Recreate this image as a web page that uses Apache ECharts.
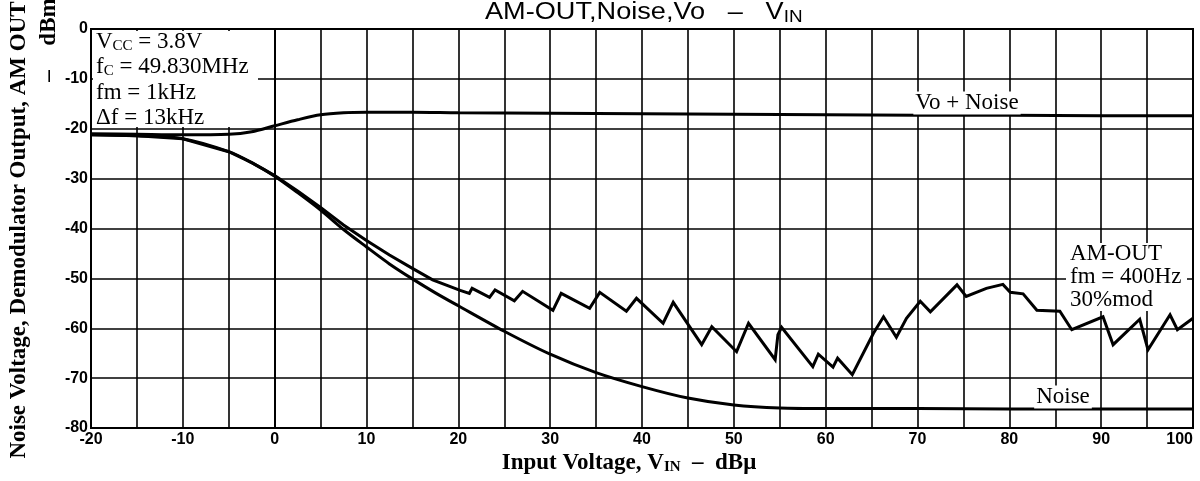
<!DOCTYPE html>
<html>
<head>
<meta charset="utf-8">
<title>AM-OUT, Noise, Vo - VIN</title>
<script src="https://cdn.jsdelivr.net/npm/echarts@6/dist/echarts.min.js"></script>
<style>
  html, body { margin: 0; padding: 0; background: #fff; }
  #chart { width: 1200px; height: 481px; }
</style>
</head>
<body>
<div id="chart"></div>
<script>
// input voltage in dBμ, output in dBm
const vinVo = [-20, -15, -10, -5, -2.5, 0, 2.5, 5, 7.5, 10, 15, 20, 30, 40, 50, 60, 70, 80, 90, 100]
const voNoise = [-21.0, -21.1, -21.2, -21.1, -20.6, -19.4, -18.2, -17.2, -16.8, -16.7, -16.7, -16.8, -16.9, -17.0, -17.1, -17.2, -17.3, -17.3, -17.4, -17.4]

const vinNoise = [-20, -15, -10, -5, -2.5, 0, 2.5, 5, 7.5, 10, 12.5, 15, 17.5, 20, 25, 30, 35, 40, 45, 50, 55, 60, 70, 80, 90, 100]
const noise = [-21.2, -21.4, -22.0, -24.6, -26.8, -29.5, -32.8, -36.3, -40.2, -43.7, -47.1, -50.1, -52.9, -55.5, -60.6, -65.2, -68.9, -71.7, -74.0, -75.4, -76.0, -76.1, -76.1, -76.2, -76.2, -76.2]

const vinAm = [-20, -15, -10, -5, -2.5, 0, 2.5, 5, 7.5, 10, 12.5, 15, 17.2, 20.2, 21.2, 21.5, 23.4, 24, 26.1, 27,
  30.3, 31.2, 34.3, 35.4, 38.3, 39.4, 42.3, 43.4, 46.5, 47.6, 50.3, 51.6, 54.5, 54.8, 55.2, 58.6, 59.2, 60.8, 61.3, 62.9,
  65.2, 66.3, 67.7, 68.8, 70.3, 71.4, 74.3, 75.3, 77.5, 79.3, 80.1, 81.5, 83.0, 85.5, 86.8, 90.2, 91.3, 94.2, 95.1, 97.5, 98.3, 100]
const amOut = [-21.2, -21.4, -22.0, -24.6, -26.8, -29.4, -32.5, -35.8, -39.3, -42.4, -45.3, -48.0, -50.3, -52.4, -53.0, -52.0, -53.8, -52.3, -54.5, -52.6,
  -56.4, -53.0, -56.0, -52.8, -56.6, -54.0, -59.0, -54.8, -63.3, -59.7, -64.7, -59.0, -66.3, -61.3, -59.8, -67.7, -65.2, -67.8, -66.0, -69.3,
  -61.0, -57.7, -61.8, -58.0, -54.6, -56.7, -51.3, -53.6, -52.0, -51.2, -52.8, -53.1, -56.4, -56.6, -60.3, -57.7, -63.3, -58.2, -64.3, -57.3, -60.3, -58.0]

const xTicks = [-20, -10, 0, 10, 20, 30, 40, 50, 60, 70, 80, 90, 100]
const yTicks = [0, -10, -20, -30, -40, -50, -60, -70, -80]

const zip = (xs, ys) => xs.map((x, i) => [x, ys[i]])

const serif = "'Liberation Serif', 'DejaVu Serif', serif"
const sans = "'Liberation Sans', Arial, sans-serif"
const sub = { fontSize: 15, fontFamily: serif, verticalAlign: 'bottom', padding: [9, 0, 0, 0] }

let chart = echarts.init(document.getElementById('chart'))

chart.setOption({
  animation: false,
  grid: {
    left: 91, right: 7, top: 29, bottom: 53,
    outerBoundsMode: 'none',
    containLabel: false,
    show: true, borderColor: '#000', borderWidth: 2
  },
  xAxis: {
    type: 'value',
    min: -20, max: 100, interval: 5,
    axisLine: {lineStyle: {color: '#000', width: 2}},
    axisTick: {show: false},
    splitLine: {lineStyle: {color: '#000', width: 1.6}},
    axisLabel: {
      margin: 4,
      color: '#000',
      fontFamily: sans,
      fontWeight: 'bold',
      fontSize: 16,
      alignMaxLabel: 'right',
      formatter: v => xTicks.includes(v) ? String(v) : ''
    }
  },
  yAxis: {
    type: 'value',
    min: -80, max: 0, interval: 10,
    axisLine: {show: true, lineStyle: {color: '#000', width: 2}},
    axisTick: {show: false},
    splitLine: {lineStyle: {color: '#000', width: 1.6}},
    axisLabel: {
      margin: 3,
      color: '#000',
      fontFamily: sans,
      fontWeight: 'bold',
      fontSize: 16,
      formatter: v => yTicks.includes(v) ? String(v) : ''
    }
  },
  series: [
    {
      name: 'Vo + Noise', type: 'line', data: zip(vinVo, voNoise),
      smooth: 0.3, showSymbol: false,
      lineStyle: {color: '#000', width: 3}
    },
    {
      name: 'Noise', type: 'line', data: zip(vinNoise, noise),
      smooth: 0.3, showSymbol: false,
      lineStyle: {color: '#000', width: 3}
    },
    {
      name: 'AM-OUT', type: 'line', data: zip(vinAm, amOut),
      showSymbol: false,
      lineStyle: {color: '#000', width: 3, join: 'miter'}
    }
  ],
  graphic: [
    // title
    {type: 'text', x: 485, y: 13, scaleX: 1.18, style: {text: 'AM-OUT,Noise,Vo   –   V{s|IN}', font: '23px ' + sans, fill: '#000', verticalAlign: 'middle',
      rich: {s: {fontFamily: sans, fontSize: 16, verticalAlign: 'bottom', padding: [10, 0, 0, 0]}}}},

    // conditions box, top left
    {type: 'rect', z: 100, shape: {x: 93, y: 31, width: 165, height: 96}, style: {fill: '#fff'}},
    {type: 'text', z: 101, x: 96, y: 42, style: {text: 'V{s|CC} = 3.8V', font: '23px ' + serif, fill: '#000', verticalAlign: 'middle', rich: {s: sub}}},
    {type: 'text', z: 101, x: 96, y: 67, style: {text: 'f{s|C} = 49.830MHz', font: '23px ' + serif, fill: '#000', verticalAlign: 'middle', rich: {s: sub}}},
    {type: 'text', z: 101, x: 96, y: 93, style: {text: 'fm = 1kHz', font: '23px ' + serif, fill: '#000', verticalAlign: 'middle'}},
    {type: 'text', z: 101, x: 96, y: 118, style: {text: 'Δf = 13kHz', font: '23px ' + serif, fill: '#000', verticalAlign: 'middle'}},

    // curve labels
    {type: 'text', z: 101, x: 967, y: 103, style: {text: 'Vo + Noise', font: '23px ' + serif, fill: '#000', align: 'center', verticalAlign: 'middle', backgroundColor: '#fff', padding: [0, 2]}},
    {type: 'rect', z: 100, shape: {x: 1066, y: 243, width: 121, height: 68}, style: {fill: '#fff'}},
    {type: 'text', z: 101, x: 1070, y: 254, style: {text: 'AM-OUT', font: '23px ' + serif, fill: '#000', verticalAlign: 'middle'}},
    {type: 'text', z: 101, x: 1070, y: 277, style: {text: 'fm = 400Hz', font: '23px ' + serif, fill: '#000', verticalAlign: 'middle'}},
    {type: 'text', z: 101, x: 1070, y: 300, style: {text: '30%mod', font: '23px ' + serif, fill: '#000', verticalAlign: 'middle'}},
    {type: 'text', z: 101, x: 1063, y: 397, style: {text: 'Noise', font: '23px ' + serif, fill: '#000', align: 'center', verticalAlign: 'middle', backgroundColor: '#fff', padding: [0, 2]}},

    // axis names
    {type: 'text', x: 629, y: 463, style: {text: 'Input Voltage, V{s|IN}  –  dBμ', font: 'bold 23px ' + serif, fill: '#000', align: 'center', verticalAlign: 'middle',
      rich: {s: {fontWeight: 'bold', fontSize: 15, fontFamily: serif, verticalAlign: 'bottom', padding: [9, 0, 0, 0]}}}},
    {type: 'text', x: 19, y: 230, rotation: Math.PI / 2, style: {text: 'Noise Voltage, Demodulator Output, AM OUT', font: 'bold 23px ' + serif, fill: '#000', align: 'center', verticalAlign: 'middle'}},
    {type: 'text', x: 49, y: 22, rotation: Math.PI / 2, style: {text: 'dBm', font: 'bold 23px ' + serif, fill: '#000', align: 'center', verticalAlign: 'middle'}},
    {type: 'text', x: 49, y: 76, rotation: Math.PI / 2, style: {text: '–', font: 'bold 23px ' + serif, fill: '#000', align: 'center', verticalAlign: 'middle'}}
  ]
})

window.addEventListener('resize', () => chart.resize())
</script>
</body>
</html>
